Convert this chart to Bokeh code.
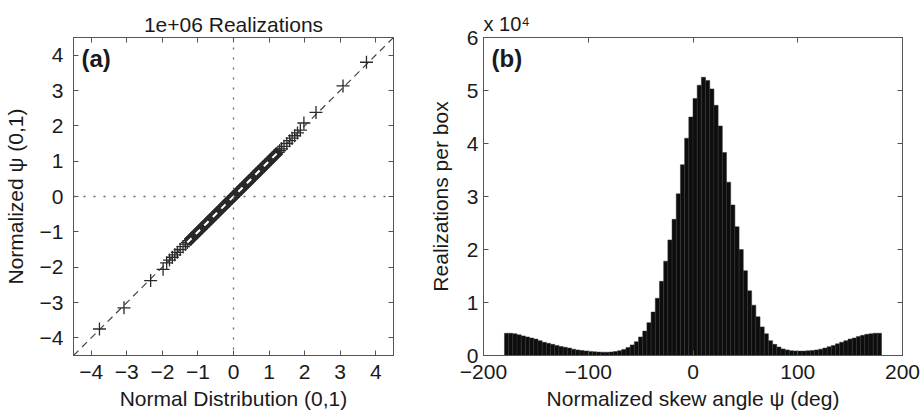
import numpy as np
from bokeh.plotting import figure
from bokeh.layouts import row
from bokeh.models import Range1d, LinearAxis, FixedTicker, Span, Label, ColumnDataSource, Title
from bokeh.embed import file_html
from bokeh.resources import INLINE

FONT = "Liberation Sans"
TXT = "#1a1a1a"
FRAME = "#555555"
FS = "21px"

# ---------------- Panel (a): QQ plot ----------------
qq_title = "1e+06 Realizations"
qq_outer_x = [-3.77, -3.08, -2.33, -1.98, 1.98, 2.32, 3.08, 3.74]
qq_outer_y = [-3.75, -3.15, -2.38, -2.06, 2.08, 2.38, 3.13, 3.80]
qq_band = [-1.88, -1.80, -1.72, -1.65, -1.58, -1.50, -1.42, -1.35, -1.30,
           -1.25, -1.20, -1.15, -1.10, -1.05, -1.00, -0.95, -0.90, -0.85, -0.80,
           -0.75, -0.70, -0.65, -0.60, -0.55, -0.50, -0.45, -0.40, -0.35, -0.30,
           -0.25, -0.20, -0.15, -0.10, -0.05, 0.00, 0.05, 0.10, 0.15, 0.20,
           0.25, 0.30, 0.35, 0.40, 0.45, 0.50, 0.55, 0.60, 0.65, 0.70,
           0.75, 0.80, 0.85, 0.90, 0.95, 1.00, 1.05, 1.10, 1.15, 1.20, 1.25,
           1.30, 1.35, 1.42, 1.50, 1.58, 1.65, 1.72, 1.80, 1.88]
qq_core_limit = 1.3   # beyond this the quantile markers separate
qq_range = [-4.5, 4.5]
qq_ticks = [-4, -3, -2, -1, 0, 1, 2, 3, 4]

# ---------------- Panel (b): histogram (counts in units of 1e4) ----------------
hist_start = -180
hist_width = 4
hist_counts_1e4 = [
    0.42, 0.42, 0.41, 0.39, 0.37, 0.35, 0.33, 0.31, 0.28, 0.25, 0.23, 0.21,
    0.19, 0.17, 0.155, 0.14, 0.12, 0.105, 0.095, 0.085, 0.077, 0.07, 0.065, 0.063,
    0.062, 0.066, 0.075, 0.09, 0.115, 0.15, 0.20, 0.26, 0.35, 0.46, 0.62, 0.82,
    1.08, 1.40, 1.78, 2.18, 2.57, 3.05, 3.60, 4.10, 4.50, 4.85, 5.10,
    5.25, 5.19, 5.03, 4.72, 4.33, 3.83, 3.27, 2.84, 2.43, 2.00, 1.60, 1.22,
    0.95, 0.73, 0.54, 0.41, 0.28, 0.21, 0.16, 0.125, 0.105,
    0.09, 0.085, 0.083, 0.083, 0.088, 0.095, 0.105, 0.12, 0.14, 0.165, 0.19,
    0.22, 0.25, 0.28, 0.31, 0.33, 0.36, 0.38, 0.40, 0.41, 0.42, 0.42]
hist_xticks = [-200, -100, 0, 100, 200]
hist_yticks = [0, 1, 2, 3, 4, 5, 6]
hist_xrange = [-200, 200]
hist_yrange = [0, 6]
hist_scale_text = "x 10\u2074"


def fmt(v):
    return ("\u2212" + str(abs(v))) if v < 0 else str(v)


def style_axis(ax, ticks, show_labels=True):
    ax.ticker = FixedTicker(ticks=ticks)
    ax.minor_tick_line_color = None
    ax.major_tick_in = 5
    ax.major_tick_out = 0
    ax.major_tick_line_color = FRAME
    ax.axis_line_color = FRAME
    ax.major_label_text_font = FONT
    ax.axis_label_text_font = FONT
    ax.axis_label_text_color = TXT
    ax.axis_label_text_font_style = "normal"
    ax.axis_label_text_font_size = FS
    if show_labels:
        ax.major_label_overrides = {t: fmt(t) for t in ticks}
        ax.major_label_text_font_size = FS
        ax.major_label_text_color = TXT
    else:
        ax.major_label_text_font_size = "1px"
        ax.major_label_text_color = None
        ax.major_label_standoff = 0


H = 416
BOTTOM = 61

# ----- figure (a)
pa = figure(width=415, height=H, output_backend="svg", toolbar_location=None,
            x_range=Range1d(*qq_range), y_range=Range1d(*qq_range),
            min_border_left=73, min_border_right=22, min_border_top=37,
            min_border_bottom=BOTTOM, title=qq_title)
pa.title.align = "center"
pa.title.text_font = FONT
pa.title.text_font_size = FS
pa.title.text_font_style = "normal"
pa.title.text_color = TXT
pa.title.standoff = 4
pa.grid.visible = False
pa.outline_line_color = FRAME

pa.xaxis.axis_label = "Normal Distribution (0,1)"
pa.yaxis.axis_label = "Normalized \u03c8 (0,1)"
style_axis(pa.xaxis[0], qq_ticks)
style_axis(pa.yaxis[0], qq_ticks)
pa.xaxis.major_label_standoff = 9
pa.yaxis.major_label_standoff = 10
pa.xaxis.axis_label_standoff = 5
pa.yaxis.axis_label_standoff = 10
ax_top = LinearAxis()
ax_right = LinearAxis()
style_axis(ax_top, qq_ticks, show_labels=False)
style_axis(ax_right, qq_ticks, show_labels=False)
pa.add_layout(ax_top, "above")
pa.add_layout(ax_right, "right")

pa.add_layout(Span(location=0, dimension="width", line_color="#666666",
                   line_dash="2 8", line_width=1.3))
pa.add_layout(Span(location=0, dimension="height", line_color="#666666",
                   line_dash="2 8", line_width=1.3))

# reference line
pa.line(x=qq_range, y=qq_range, line_color="#444444", line_dash="7 5", line_width=1.2)
# dense core of quantile markers (solid band)
core = [v for v in qq_band if abs(v) <= qq_core_limit]
core_ends = [min(core), max(core)]
pa.line(x=core_ends, y=core_ends, line_color="#1a1a1a", line_width=10)
# markers
all_x = qq_outer_x + qq_band
all_y = qq_outer_y + qq_band
pa.scatter(x=all_x, y=all_y, marker="cross", size=13, line_color="#2a2a2a",
           line_width=1.3)
# white dashes where the line runs through the dense band
pa.line(x=core_ends, y=core_ends, line_color="white", line_dash="6 6", line_width=2)

pa.add_layout(Label(x=qq_range[0], y=qq_range[1], x_offset=8, y_offset=-7,
                    text="(a)", text_font=FONT, text_font_size="24px",
                    text_font_style="bold", text_color=TXT, text_baseline="top"))

# ----- figure (b)
pb = figure(width=509, height=H, output_backend="svg", toolbar_location=None,
            x_range=Range1d(*hist_xrange), y_range=Range1d(*hist_yrange),
            min_border_left=68, min_border_right=22, min_border_top=37,
            min_border_bottom=BOTTOM)
pb.grid.visible = False
pb.outline_line_color = FRAME
pb.xaxis.axis_label = "Normalized skew angle \u03c8 (deg)"
pb.yaxis.axis_label = "Realizations per box"
style_axis(pb.xaxis[0], hist_xticks)
style_axis(pb.yaxis[0], hist_yticks)
pb.xaxis.major_label_standoff = 9
pb.yaxis.major_label_standoff = 5
pb.xaxis.axis_label_standoff = 5
pb.yaxis.axis_label_standoff = 12
bx_top = LinearAxis()
by_right = LinearAxis()
style_axis(bx_top, hist_xticks, show_labels=False)
style_axis(by_right, hist_yticks, show_labels=False)
pb.add_layout(bx_top, "above")
pb.add_layout(by_right, "right")
pb.add_layout(Title(text=hist_scale_text, align="left", text_font=FONT,
                    text_font_size="20px", text_font_style="normal",
                    text_color=TXT, standoff=5), "above")

n = len(hist_counts_1e4)
lefts = hist_start + hist_width * np.arange(n)
src = ColumnDataSource(dict(left=lefts, right=lefts + hist_width,
                            top=hist_counts_1e4, bottom=[0] * n))
pb.quad(left="left", right="right", top="top", bottom="bottom", source=src,
        fill_color="#0d0d0d", line_color="#333333", line_width=0.5)

pb.add_layout(Label(x=hist_xrange[0], y=hist_yrange[1], x_offset=8, y_offset=-7,
                    text="(b)", text_font=FONT, text_font_size="24px",
                    text_font_style="bold", text_color=TXT, text_baseline="top"))

layout = row(pa, pb)
open("out.html", "w").write(file_html(layout, INLINE))
